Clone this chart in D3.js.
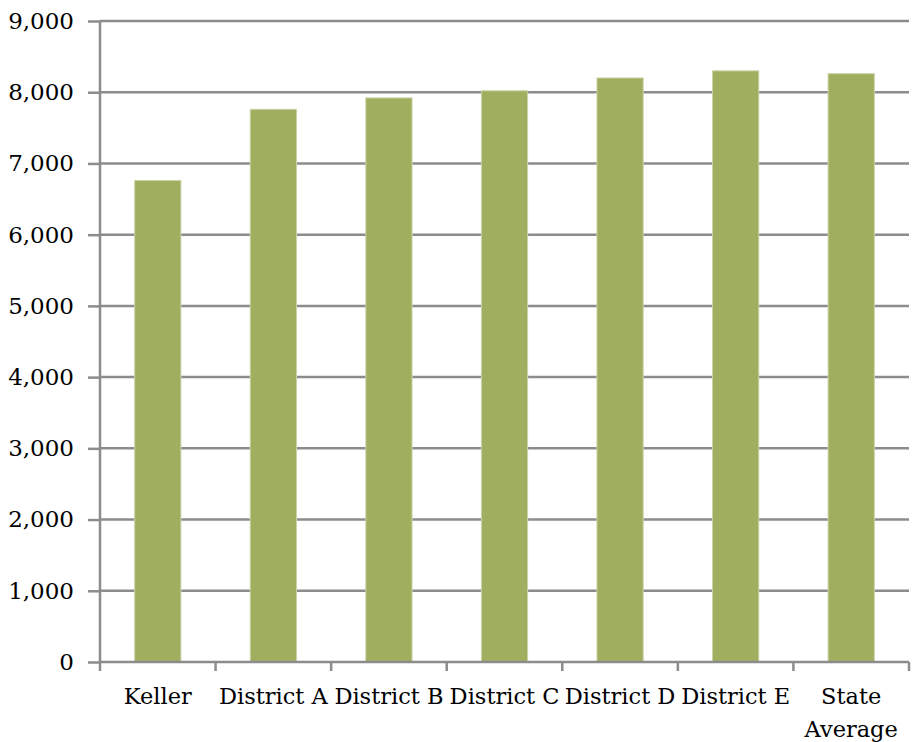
<!DOCTYPE html>
<html>
<head>
<meta charset="utf-8">
<script src="https://cdn.jsdelivr.net/npm/d3@7"></script>
<style>
  body { margin: 0; background: #fff; }
  text { font-family: "DejaVu Serif", "Liberation Serif", serif; fill: #000; }
</style>
</head>
<body>
<div id="chart"></div>
<script>
var categories = ["Keller", "District A", "District B", "District C", "District D", "District E", "State Average"];
var values = [6760, 7760, 7920, 8020, 8200, 8300, 8260];
var yTicks = [0, 1000, 2000, 3000, 4000, 5000, 6000, 7000, 8000, 9000];

var svgWidth = 923;
var svgHeight = 742;
var margin = { top: 21, right: 14, bottom: 80, left: 100 };
var width = 909 - margin.left;
var height = 662 - margin.top;

var svg = d3.select("#chart")
  .append("svg")
  .attr("width", svgWidth)
  .attr("height", svgHeight);

var chartGroup = svg.append("g")
  .attr("transform", `translate(${margin.left}, ${margin.top})`);

var xScale = d3.scaleBand()
  .domain(categories)
  .range([0, width])
  .paddingInner(0.6)
  .paddingOuter(0.3);

var yScale = d3.scaleLinear()
  .domain([0, 9000])
  .range([height, 0]);

// gridlines
chartGroup.selectAll(".grid")
  .data(yTicks.slice(1))
  .enter()
  .append("line")
  .attr("x1", 0)
  .attr("x2", width)
  .attr("y1", d => yScale(d))
  .attr("y2", d => yScale(d))
  .attr("stroke", "#8c8c8c")
  .attr("stroke-width", 2.5);

// bars
chartGroup.selectAll(".bar")
  .data(values)
  .enter()
  .append("rect")
  .attr("x", (d, i) => xScale(categories[i]))
  .attr("y", d => yScale(d))
  .attr("width", xScale.bandwidth())
  .attr("height", d => height - yScale(d))
  .attr("fill", "#9faf5f")
  .attr("stroke", "#c9d3a8")
  .attr("stroke-width", 1);

// y axis
var leftAxis = d3.axisLeft(yScale)
  .tickValues(yTicks)
  .tickSize(12)
  .tickPadding(14)
  .tickFormat(d3.format(","));

var yAxis = chartGroup.append("g").call(leftAxis);
yAxis.selectAll("path, line").attr("stroke", "#8c8c8c").attr("stroke-width", 2.5);
yAxis.select(".domain").attr("d", `M0,0V${height}`);
yAxis.attr("font-family", null).attr("font-size", null);
yAxis.selectAll("text")
  .style("font-size", "23px")
  .attr("fill", "#000");

// x axis with ticks at category boundaries
var step = width / categories.length;
var xAxisG = chartGroup.append("g")
  .attr("transform", `translate(0, ${height})`);
xAxisG.append("line")
  .attr("x1", 0).attr("x2", width)
  .attr("stroke", "#8c8c8c").attr("stroke-width", 2.5);
xAxisG.selectAll(".xtick")
  .data(d3.range(categories.length + 1))
  .enter()
  .append("line")
  .attr("x1", d => d * step)
  .attr("x2", d => d * step)
  .attr("y1", 0)
  .attr("y2", 9)
  .attr("stroke", "#8c8c8c").attr("stroke-width", 2.5);

var labels = xAxisG.selectAll(".xlabel")
  .data(categories)
  .enter()
  .append("text")
  .attr("text-anchor", "middle")
  .style("font-size", "22.5px")
  .attr("transform", d => `translate(${xScale(d) + xScale.bandwidth() / 2}, 42)`);

labels.each(function(d) {
  var lines = d === "State Average" ? ["State", "Average"] : [d];
  var t = d3.select(this);
  lines.forEach(function(l, i) {
    t.append("tspan").attr("x", 0).attr("dy", i === 0 ? 0 : 33).text(l);
  });
});
</script>
</body>
</html>
